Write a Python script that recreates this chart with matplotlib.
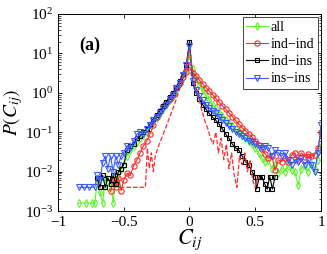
import matplotlib
matplotlib.use('Agg')
import matplotlib.pyplot as plt
from matplotlib.ticker import LogLocator, LogFormatterMathtext, NullFormatter

plt.rcParams['font.family'] = ['Liberation Serif', 'DejaVu Serif']
plt.rcParams['mathtext.fontset'] = 'stix'

# bin centres shared by the main part of each histogram
grid = [-0.5, -0.475, -0.45, -0.425, -0.4, -0.375, -0.35, -0.325, -0.3, -0.275,
        -0.25, -0.225, -0.2, -0.175, -0.15, -0.125, -0.1, -0.075, -0.05, -0.025,
        0.0, 0.025, 0.05, 0.075, 0.1, 0.125, 0.15, 0.175, 0.2, 0.225,
        0.25, 0.275, 0.3, 0.325, 0.35, 0.375, 0.4, 0.425, 0.45, 0.475,
        0.5, 0.525, 0.55, 0.575, 0.6, 0.625, 0.65, 0.675, 0.7, 0.725,
        0.75, 0.775, 0.8, 0.825, 0.85, 0.875, 0.9, 0.925, 0.95, 0.975, 1.0]

# all
all_tail_x = [-0.84, -0.79, -0.74, -0.72, -0.7, -0.68, -0.66, -0.64, -0.62, -0.6, -0.58, -0.56, -0.54, -0.52]
all_tail_y = [0.0016, 0.0016, 0.0016, 0.0016, 0.006, 0.003, 0.0016, 0.007, 0.004, 0.006, 0.0016, 0.008, 0.005, 0.012]
all_y = [0.015, 0.025, 0.035, 0.045, 0.055, 0.07, 0.085, 0.1, 0.13, 0.17,
         0.23, 0.3, 0.38, 0.5, 0.65, 0.85, 1.2, 1.7, 2.4, 3.6,
         9.0, 4.0, 2.4, 1.6, 1.15, 0.85, 0.65, 0.5, 0.4, 0.32,
         0.26, 0.21, 0.17, 0.14, 0.12, 0.1, 0.085, 0.07, 0.06, 0.05,
         0.04, 0.03, 0.022, 0.018, 0.02, 0.012, 0.015, 0.009, 0.012, 0.01,
         0.014, 0.011, 0.01, 0.0045, 0.012, 0.014, 0.01, 0.016, 0.012, 0.02, 0.045]

# ind-ind
ii_tail_x = [-0.6, -0.58, -0.56, -0.54, -0.52]
ii_tail_y = [0.0032, 0.006, 0.004, 0.007, 0.0033]
ii_y = [0.006, 0.009, 0.008, 0.014, 0.02, 0.03, 0.045, 0.06, 0.09, 0.15,
        0.25, 0.35, 0.45, 0.55, 0.7, 0.9, 1.3, 1.8, 2.5, 3.3,
        4.5, 3.2, 2.6, 2.1, 1.7, 1.35, 1.1, 0.9, 0.72, 0.58,
        0.47, 0.38, 0.31, 0.25, 0.2, 0.16, 0.13, 0.11, 0.09, 0.075,
        0.06, 0.048, 0.038, 0.028, 0.022, 0.025, 0.011, 0.02, 0.018, 0.022,
        0.018, 0.026, 0.03, 0.02, 0.03, 0.024, 0.028, 0.025, 0.026, 0.04, 0.1]

# ind-ins
in_tail_x = [-0.7, -0.68, -0.66, -0.64, -0.62, -0.6, -0.58, -0.56, -0.54, -0.52]
in_tail_y = [0.007, 0.004, 0.008, 0.004, 0.007, 0.005, 0.008, 0.005, 0.01, 0.012]
in_y = [0.015, 0.035, 0.045, 0.05, 0.07, 0.08, 0.1, 0.12, 0.16, 0.22,
        0.28, 0.35, 0.45, 0.6, 0.8, 1.0, 1.4, 2.0, 3.0, 5.0,
        20.0, 1.8, 1.0, 0.7, 0.5, 0.38, 0.3, 0.24, 0.2, 0.16,
        0.12, 0.09, 0.07, 0.05, 0.04, 0.035, 0.025, 0.018, 0.015, 0.01,
        0.0075]
in_end_x = [0.51, 0.53, 0.55, 0.57, 0.59, 0.61, 0.63, 0.65]
in_end_y = [0.0036, 0.0075, 0.0075, 0.005, 0.0036, 0.0075, 0.0036, 0.0075]

# ins-ins
ss_tail_x = [-0.84, -0.8, -0.76, -0.72, -0.7, -0.68, -0.66, -0.64, -0.62, -0.6, -0.58, -0.56, -0.54, -0.52]
ss_tail_y = [0.004, 0.004, 0.004, 0.004, 0.008, 0.006, 0.017, 0.025, 0.012, 0.025, 0.01, 0.025, 0.015, 0.025]
ss_y = [0.03, 0.045, 0.04, 0.06, 0.09, 0.1, 0.09, 0.12, 0.15, 0.2,
        0.25, 0.3, 0.4, 0.5, 0.7, 0.9, 1.3, 1.8, 2.8, 5.0,
        15.0, 2.0, 1.2, 0.85, 0.65, 0.5, 0.42, 0.35, 0.3, 0.25,
        0.2, 0.17, 0.14, 0.12, 0.1, 0.09, 0.08, 0.07, 0.06, 0.055,
        0.05, 0.045, 0.04, 0.045, 0.04, 0.025, 0.035, 0.03, 0.025, 0.03,
        0.02, 0.015, 0.02, 0.018, 0.022, 0.015, 0.02, 0.015, 0.01, 0.03, 0.15]

# dashed reference curve
ref_x = [-0.53, -0.5, -0.45, -0.4, -0.35, -0.335, -0.32, -0.305, -0.29, -0.275,
         -0.26, -0.24, -0.22, -0.2, -0.18, -0.16, -0.14, -0.12, -0.1, -0.08,
         -0.06, -0.04, -0.02, 0.0, 0.02, 0.04, 0.06, 0.08, 0.1, 0.12,
         0.14, 0.16, 0.18, 0.2, 0.22, 0.24, 0.26, 0.28, 0.3, 0.32,
         0.34, 0.36, 0.38, 0.4, 0.42, 0.44, 0.46, 0.48, 0.5, 0.52]
ref_y = [0.004, 0.004, 0.004, 0.004, 0.004, 0.004, 0.04, 0.012, 0.03, 0.01,
         0.025, 0.04, 0.06, 0.09, 0.13, 0.2, 0.3, 0.45, 0.7, 1.1,
         1.8, 3.0, 5.5, 12.0, 4.5, 2.0, 1.0, 0.55, 0.3, 0.18,
         0.12, 0.07, 0.05, 0.1, 0.03, 0.07, 0.02, 0.05, 0.012, 0.03,
         0.008, 0.004, 0.025, 0.015, 0.03, 0.01, 0.02, 0.006, 0.004, 0.008]

fig = plt.figure(figsize=(3.27, 2.54), dpi=100)
ax = fig.add_axes([0.177, 0.169, 0.805, 0.776])

ms = 3.8
lw = 0.8
ax.plot(all_tail_x + grid, all_tail_y + all_y, '-d', color='#5cf52a', mfc='none',
        ms=ms, mew=0.8, lw=lw, label='all')
ax.plot(ii_tail_x + grid, ii_tail_y + ii_y, '-o', color='#ff2a2a', mfc='none',
        ms=ms, mew=0.8, lw=lw, label='ind\u2212ind')
ax.plot(in_tail_x + grid[:41] + in_end_x, in_tail_y + in_y + in_end_y, '-s',
        color='black', mfc='none', ms=3.2, mew=0.8, lw=lw, label='ind\u2212ins')
ax.plot(ss_tail_x + grid, ss_tail_y + ss_y, '-v', color='#3b5bff', mfc='none',
        ms=ms, mew=0.8, lw=lw, label='ins\u2212ins')
ax.plot(ref_x, ref_y, '--', color='#ff2a2a', lw=0.9)

ax.set_yscale('log')
ax.set_xlim(-1, 1)
ax.set_ylim(1e-3, 1e2)
ax.set_xticks([-1, -0.5, 0, 0.5, 1])
ax.set_xticklabels(['\u22121', '\u22120.5', '0', '0.5', '1'])
ax.yaxis.set_major_locator(LogLocator(base=10, numticks=10))
ax.yaxis.set_major_formatter(LogFormatterMathtext())
ax.yaxis.set_minor_locator(LogLocator(base=10, subs=range(2, 10), numticks=20))
ax.yaxis.set_minor_formatter(NullFormatter())
ax.tick_params(which='both', direction='in', top=True, right=True, labelsize=11)
ax.tick_params(which='major', length=3, width=0.6)
ax.tick_params(which='minor', length=1.8, width=0.5)
for s in ax.spines.values():
    s.set_linewidth(0.7)

ax.set_xlabel('$C_{ij}$', fontsize=16, labelpad=-1)
ax.set_ylabel('$P(C_{ij})$', fontsize=14, labelpad=0)
ax.text(0.08, 0.84, '(a)', transform=ax.transAxes, fontsize=13, fontweight='bold',
        va='center')

leg = ax.legend(loc='upper right', fontsize=10, handlelength=1.6, handletextpad=0.15,
                borderpad=0.25, labelspacing=0.3, borderaxespad=0.25, fancybox=False,
                framealpha=1)
leg.get_frame().set_edgecolor('#444444')
leg.get_frame().set_linewidth(0.7)

fig.savefig('out.png', dpi=100)
